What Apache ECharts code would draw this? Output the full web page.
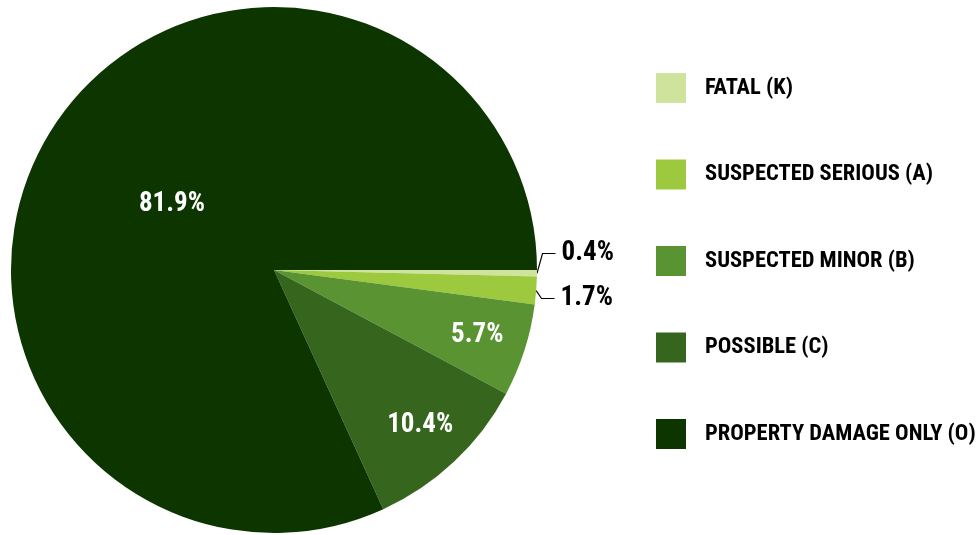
<!DOCTYPE html>
<html>
<head>
<meta charset="utf-8">
<script src="https://cdn.jsdelivr.net/npm/echarts@6/dist/echarts.min.js"></script>
<style>
  html, body { margin: 0; padding: 0; background: #fff; }
  #chart { width: 979px; height: 535px; }
</style>
</head>
<body>
<div id="chart"></div>
<script>
// Crash severity shares (percent)
const categories = ['FATAL (K)', 'SUSPECTED SERIOUS (A)', 'SUSPECTED MINOR (B)', 'POSSIBLE (C)', 'PROPERTY DAMAGE ONLY (O)'];
const shares = [0.4, 1.7, 5.7, 10.4, 81.9];
const colors = ['#cfe39d', '#9cc93e', '#5a9332', '#36651e', '#0c3500'];

const FONT = '"Roboto Condensed", "Liberation Sans Narrow", "DejaVu Sans Condensed", sans-serif';
const CENTER = [274, 270];
const R = 263;

// Which slices get their label where
const outsideLabels = ['FATAL (K)', 'SUSPECTED SERIOUS (A)'];
const outerRingLabels = ['SUSPECTED MINOR (B)', 'POSSIBLE (C)'];
const innerLabels = ['PROPERTY DAMAGE ONLY (O)'];

const fmt = p => p.value.toFixed(1) + '%';

const labelFont = {
  fontFamily: FONT,
  fontWeight: 'bold',
  fontSize: 27
};

function mainData() {
  return categories.map((name, i) => {
    const out = outsideLabels.includes(name);
    return {
      name,
      value: shares[i],
      itemStyle: { color: colors[i] },
      label: { show: out },
      labelLine: { show: out }
    };
  });
}

// Transparent overlay pies, used only to place the white in-slice labels
function overlayData(names) {
  return categories.map((name, i) => ({
    name,
    value: shares[i],
    itemStyle: { color: 'rgba(0,0,0,0)' },
    label: { show: names.includes(name) }
  }));
}

function overlaySeries(radius, names) {
  return {
    type: 'pie',
    left: 0,
    top: 0,
    width: 979,
    height: 535,
    center: CENTER,
    radius,
    startAngle: 0,
    clockwise: true,
    silent: true,
    legendHoverLink: false,
    itemStyle: { borderWidth: 0 },
    label: Object.assign({ position: 'inside', formatter: fmt, color: '#fff', padding: [8, 0, 0, 0] }, labelFont),
    labelLine: { show: false },
    data: overlayData(names)
  };
}

const chart = echarts.init(document.getElementById('chart'), null, { renderer: 'canvas' });
chart.setOption({
  animation: false,
  backgroundColor: '#fff',
  legend: {
    orient: 'vertical',
    left: 651,
    top: 68,
    itemWidth: 30,
    itemHeight: 30,
    itemGap: 56.5,
    icon: 'rect',
    data: categories,
    selectedMode: false,
    textStyle: {
      fontFamily: FONT,
      fontWeight: 'bold',
      fontSize: 22.5,
      color: '#000',
      padding: [2, 0, 0, 14]
    }
  },
  series: [
    {
      type: 'pie',
      // layout box ends just below the outside labels so they stack upward
      left: 0,
      top: 0,
      width: 979,
      height: 321,
      center: CENTER,
      radius: [0, R],
      startAngle: 0,
      clockwise: true,
      silent: true,
      avoidLabelOverlap: true,
      itemStyle: { borderWidth: 0 },
      label: Object.assign({
        position: 'outside',
        formatter: fmt,
        color: '#000',
        lineHeight: 43,
        distanceToLabelLine: 6
      }, labelFont),
      labelLine: {
        length: 12,
        length2: 13,
        lineStyle: { color: '#000', width: 1.2 }
      },
      data: mainData()
    },
    overlaySeries([0, R * 0.9], innerLabels),
    overlaySeries([R * 0.6, R], outerRingLabels)
  ]
});
</script>
</body>
</html>
